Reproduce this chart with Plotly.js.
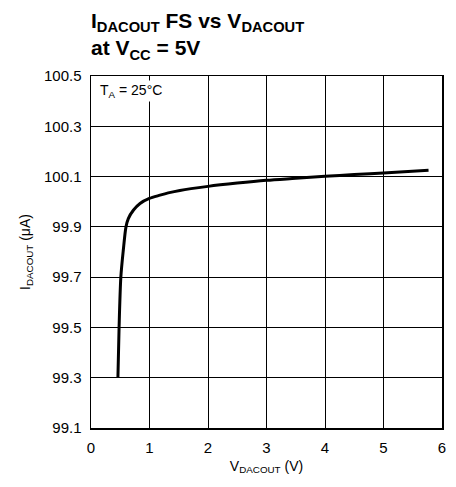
<!DOCTYPE html>
<html><head><meta charset="utf-8">
<script src="https://cdn.plot.ly/plotly-3.0.1.min.js"></script>
<style>html,body{margin:0;padding:0;background:#fff;}#chart{width:456px;height:487px;}</style>
</head><body><div id="chart"></div>
<script>
var vDacout = [0.46, 0.48, 0.51, 0.552, 0.598, 0.638, 0.724, 0.838, 0.997, 1.18, 1.32, 1.52, 2.0, 2.5, 3.0, 3.5, 4.0, 4.5, 5.0, 5.77];
var iDacout = [99.3, 99.5, 99.7, 99.807, 99.9, 99.933, 99.966, 99.993, 100.013, 100.026, 100.035, 100.045, 100.061, 100.074, 100.085, 100.093, 100.101, 100.108, 100.114, 100.125];
var xTicks = [0, 1, 2, 3, 4, 5, 6];
var yTicks = [99.1, 99.3, 99.5, 99.7, 99.9, 100.1, 100.3, 100.5];
var yTickText = ['99.1', '99.3', '99.5', '99.7', '99.9', '100.1', '100.3', '100.5'];

var font = 'Liberation Sans, Arial, sans-serif';
Plotly.newPlot('chart', [{
  x: vDacout, y: iDacout, mode: 'lines', type: 'scatter',
  line: {color: '#000', width: 3, shape: 'spline', smoothing: 0.8},
  hoverinfo: 'skip'
}], {
  width: 456, height: 487,
  margin: {l: 91, r: 14, t: 76, b: 59},
  paper_bgcolor: '#fff', plot_bgcolor: '#fff',
  showlegend: false,
  font: {family: font, color: '#000', size: 14},
  xaxis: {
    range: [0, 6], tickvals: xTicks, ticks: '', showgrid: true, gridcolor: '#000', gridwidth: 1,
    zeroline: false, showline: true, linecolor: '#000', linewidth: 1.5, mirror: true,
    tickfont: {size: 15}, ticklabelstandoff: 5,
    title: {text: 'V<sub>DACOUT</sub> (V)', font: {size: 14}, standoff: 6}
  },
  yaxis: {
    range: [99.1, 100.5], tickvals: yTicks, ticktext: yTickText, ticks: '', showgrid: true, gridcolor: '#000', gridwidth: 1,
    zeroline: false, showline: true, linecolor: '#000', linewidth: 1.5, mirror: true,
    tickfont: {size: 15}, ticklabelstandoff: 5,
    title: {text: 'I<sub>DACOUT</sub> (μA)', font: {size: 14}, standoff: 10}
  },
  annotations: [{
    text: '<b>I<sub>DACOUT</sub> FS vs V<sub>DACOUT</sub><br>at V<sub>CC</sub> = 5V</b>',
    xref: 'paper', yref: 'paper', x: -0.005, y: 1.195, xanchor: 'left', yanchor: 'top', align: 'left',
    showarrow: false, font: {size: 21, color: '#000'}
  }, {
    text: 'T<sub>A</sub> = 25°C', xref: 'paper', yref: 'paper', x: 0.02, y: 0.99,
    xanchor: 'left', yanchor: 'top', showarrow: false, font: {size: 14}, bgcolor: '#fff'
  }]
}, {staticPlot: true});
</script></body></html>
